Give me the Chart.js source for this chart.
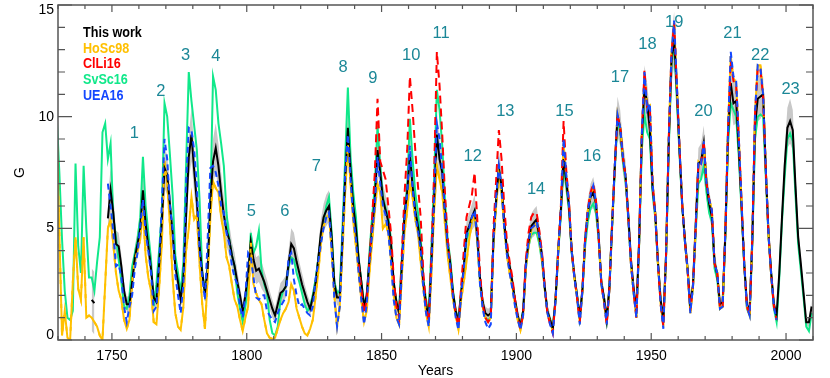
<!DOCTYPE html>
<html><head><meta charset="utf-8">
<script src="https://cdn.jsdelivr.net/npm/chart.js@4/dist/chart.umd.min.js"></script>
<style>html,body{margin:0;padding:0;background:#fff;}#wrap{width:830px;height:378px;}</style>
</head><body><div id="wrap"><canvas id="c" width="830" height="378"></canvas></div>
<script>
// ---------------- DATA (annual values, G) ----------------
const thisWorkStart = 1742;
const thisWork = [
 1.8,1.65,null,null,null,null,5.45,6.7,
 5.7,4.3,4.2,3.3,2.2,1.6,1.6,2.6,3.7,4.3,
 5.0,6.7,5.2,4.2,3.2,1.9,1.7,3.4,5.3,7.7,
 7.4,6.1,4.8,3.3,2.6,1.8,2.8,5.5,8.2,9.2,
 7.6,6.2,4.2,3.0,2.1,3.2,6.2,8.0,8.6,7.8,
 6.6,5.6,4.9,4.5,3.8,3.3,2.6,2.0,1.3,2.0,
 3.0,4.4,3.6,3.1,3.2,2.9,2.6,2.2,1.8,1.4,
 1.1,1.6,2.1,2.2,2.4,3.4,4.3,4.1,3.5,3.0,
 2.5,2.1,1.7,1.4,1.9,2.5,3.6,4.8,5.5,5.8,
 6.0,4.6,2.5,1.9,1.9,4.5,7.2,9.5,7.6,6.0,
 5.0,3.6,2.6,1.5,2.0,3.6,5.0,6.3,8.5,7.5,
 6.3,5.8,5.3,4.3,2.6,1.7,1.2,3.3,5.6,6.6,
 8.3,6.9,5.8,5.1,4.2,2.6,1.6,1.0,3.5,6.3,
 9.2,8.1,7.5,5.7,4.3,3.4,2.1,1.3,0.8,2.1,
 3.3,4.8,5.1,5.5,5.8,4.7,2.8,1.7,1.2,1.1,
 1.2,4.5,6.3,7.7,6.9,5.3,4.0,3.3,2.6,1.8,
 1.1,0.6,1.3,3.4,4.4,5.1,5.25,5.4,4.6,3.8,
 2.4,1.3,0.9,0.5,1.8,4.0,5.8,8.1,7.1,6.0,
 4.0,2.9,2.0,1.0,2.3,4.5,5.7,6.4,6.6,6.1,
 4.7,2.6,1.9,0.9,2.4,5.2,7.8,10.0,9.5,8.2,
 7.3,5.6,3.6,2.3,1.3,4.4,9.0,11.3,10.6,9.4,
 6.8,5.7,3.5,1.8,0.9,3.8,8.8,12.5,13.5,11.2,
 8.5,6.0,4.5,3.2,1.5,2.5,5.2,7.9,8.0,8.8,
 7.0,6.1,5.5,3.5,2.9,1.6,1.7,4.8,9.2,11.5,
 10.6,10.7,8.5,6.0,3.4,1.6,1.3,4.5,9.6,10.8,
 10.9,11.0,7.6,4.8,3.0,1.6,1.1,3.0,5.5,7.8,
 9.5,9.8,9.4,6.9,4.6,3.4,2.1,0.8,0.8,1.5
];
// half-width of the grey uncertainty band of "This work"
const thisWorkErr = [
 1.4,1.4,null,null,null,null,0.9,1.0,
 0.8,0.6,0.6,0.5,0.4,0.35,0.35,0.4,0.5,0.6,
 0.7,0.8,0.7,0.6,0.5,0.35,0.35,0.5,0.7,0.9,
 0.9,0.8,0.6,0.5,0.4,0.35,0.4,0.7,1.0,1.2,
 1.0,0.8,0.6,0.5,0.4,0.5,0.8,1.0,1.1,1.0,
 0.9,0.8,0.7,0.7,0.6,0.6,0.5,0.4,0.35,0.4,
 0.5,0.6,0.6,0.6,0.6,0.6,0.5,0.5,0.4,0.4,
 0.35,0.4,0.45,0.5,0.5,0.6,0.7,0.7,0.6,0.5,
 0.5,0.4,0.35,0.3,0.35,0.4,0.5,0.6,0.6,0.7,
 0.7,0.6,0.4,0.35,0.35,0.5,0.7,0.9,0.8,0.7,
 0.6,0.5,0.4,0.3,0.35,0.5,0.6,0.7,0.9,0.8,
 0.7,0.7,0.6,0.5,0.4,0.3,0.3,0.4,0.6,0.7,
 0.9,0.8,0.7,0.6,0.5,0.4,0.3,0.3,0.4,0.7,
 1.0,0.9,0.8,0.6,0.5,0.4,0.35,0.3,0.25,0.35,
 0.4,0.5,0.6,0.6,0.7,0.6,0.4,0.3,0.3,0.3,
 0.3,0.5,0.7,0.8,0.7,0.6,0.5,0.4,0.4,0.3,
 0.3,0.25,0.3,0.4,0.5,0.55,0.6,0.6,0.55,0.5,
 0.4,0.3,0.25,0.2,0.3,0.4,0.6,0.8,0.7,0.6,
 0.5,0.4,0.3,0.25,0.3,0.5,0.6,0.6,0.7,0.6,
 0.5,0.4,0.3,0.25,0.3,0.5,0.7,0.9,0.8,0.7,
 0.7,0.6,0.4,0.3,0.25,0.5,0.8,1.0,0.9,0.8,
 0.7,0.6,0.4,0.3,0.2,0.4,0.8,1.1,1.2,1.0,
 0.8,0.6,0.5,0.4,0.3,0.35,0.5,0.7,0.8,0.8,
 0.7,0.6,0.5,0.4,0.35,0.25,0.3,0.5,0.8,1.0,
 1.0,1.0,0.8,0.6,0.4,0.3,0.25,0.5,0.9,1.0,
 1.0,0.8,0.6,0.5,0.4,0.3,0.25,0.35,0.6,0.8,
 0.9,1.0,0.9,0.7,0.5,0.4,0.3,0.2,0.2,0.3
];
const hoSc98Start = 1729;
const hoSc98 = [
 9.4,
 4.8,0.2,1.3,0.1,0.0,2.6,4.6,2.3,1.8,4.6,
 1.0,1.1,1.0,0.8,0.6,0.2,0.0,2.5,5.0,5.4,
 4.3,3.0,2.2,1.8,0.9,0.5,0.9,2.6,3.6,4.0,
 4.5,5.8,3.8,2.8,2.2,0.8,0.7,2.3,4.3,8.0,
 7.0,5.2,2.8,1.2,0.6,0.45,1.5,4.0,5.0,6.4,
 5.4,5.6,3.4,1.6,0.5,2.8,5.5,7.1,6.8,6.6,
 5.5,4.8,3.7,3.3,2.5,1.8,1.5,0.9,0.4,1.0,
 1.5,4.4,2.5,2.1,1.8,1.6,0.9,0.3,0.1,0.05,
 0.1,0.5,0.9,1.2,1.4,1.7,2.5,2.2,1.4,1.0,
 0.6,0.3,0.2,0.5,0.9,1.9,3.0,4.3,5.1,5.5,
 5.6,4.0,2.0,0.6,1.5,4.0,6.6,8.8,7.0,5.3,
 4.2,3.0,1.8,0.8,1.3,3.0,4.4,5.8,7.0,6.6,
 5.0,5.2,4.8,3.6,2.0,1.0,0.7,2.8,4.8,5.8,
 7.0,6.4,5.4,4.8,3.5,2.3,1.2,0.6,3.0,5.8,
 7.8,7.2,6.6,5.2,3.8,2.8,1.8,1.1,0.5,1.8,
 2.6,3.5,4.5,5.3,5.6,4.5,2.6,1.5,1.0,0.8,
 1.0,4.3,6.0,7.4,6.6,5.0,3.8,3.0,2.4,1.6,
 0.9,0.45,1.1,3.2,4.2,4.9,5.1,5.2,4.5,3.6,
 2.3,1.2,0.8,0.4,1.7,3.9,5.9,8.8,7.3,6.1,
 4.0,2.8,1.9,0.8,2.2,4.5,5.8,6.5,6.8,6.2,
 4.6,2.5,1.7,0.7,2.3,5.2,7.8,10.1,9.5,8.2,
 7.3,5.5,3.4,2.1,1.0,4.3,9.2,11.8,10.4,10.5,
 7.0,5.6,3.4,1.6,0.6,3.8,9.0,12.8,14.2,11.4,
 8.6,6.1,4.4,3.1,1.2,2.4,5.0,8.0,7.9,8.9,
 7.0,6.3,5.8,3.4,3.0,1.4,1.5,4.9,9.5,12.7,
 11.7,11.5,9.0,6.2,3.4,1.5,1.1,4.6,10.2,12.3,
 12.3,11.0,7.6,4.7,2.9,1.5
];
const clLi16Start = 1841;
const clLi16 = [
 3.4,2.3,1.2,1.8,3.6,5.5,7.5,10.8,8.0,
 7.6,7.2,6.0,4.8,2.8,1.5,1.0,3.8,6.5,8.5,
 11.8,10.3,8.5,6.9,5.5,3.0,1.6,0.8,4.0,7.5,
 12.9,11.4,9.2,6.6,4.6,3.3,2.0,1.2,0.6,2.4,
 4.0,5.5,6.0,6.5,7.5,5.4,3.0,1.6,1.0,0.8,
 1.0,5.0,7.2,9.4,8.1,6.0,4.4,3.5,2.8,1.8,
 1.0,0.5,1.2,3.6,4.8,5.5,5.7,5.7,4.9,3.9,
 2.4,1.2,0.7,0.3,1.8,4.0,6.0,9.8,7.6,6.2,
 4.0,2.8,1.9,0.8,2.3,4.6,5.9,6.6,7.0,6.3,
 4.6,2.5,1.7,0.7,2.3,5.2,7.8,10.1,9.5,8.2,
 7.3,5.5,3.4,2.1,1.0,4.3,9.2,12.1,10.4,10.4,
 7.0,5.6,3.4,1.6,0.6,3.8,9.0,12.8,14.2,11.4,
 8.6,6.1,4.4,3.1,1.3,2.4,5.0,8.0,7.9,8.9,
 7.0,6.3,5.8,3.4,3.0,1.4,1.5,4.9,9.4,12.5,
 11.6,11.4,9.0,6.2,3.4,1.5,1.1,4.6,10.1,12.2,
 12.1,10.9,7.6,4.7,2.9,1.5,0.9
];
const svSc16Start = 1729;
const svSc16 = [
 10.1,
 7.5,4.5,2.2,1.0,0.9,1.3,7.9,4.2,3.0,7.8,
 5.0,2.8,2.8,2.2,3.5,4.6,9.3,9.7,8.1,8.8,
 5.5,4.6,3.6,2.6,1.5,1.4,2.0,3.3,3.9,4.5,
 5.5,8.2,6.0,4.8,3.6,1.5,2.5,4.0,5.7,10.6,
 10.0,8.3,6.5,3.8,3.0,2.1,3.5,7.8,12.0,10.7,
 9.6,8.5,6.3,3.0,2.1,3.2,6.0,11.8,11.2,9.7,
 8.8,7.8,5.7,4.5,3.8,3.3,2.1,1.4,0.8,1.5,
 2.4,4.8,3.9,4.2,4.9,3.1,2.5,2.1,0.9,0.3,
 0.2,0.6,1.8,2.2,2.4,3.3,3.7,3.6,3.0,2.6,
 2.1,1.6,1.3,1.5,2.0,2.7,3.6,4.6,5.3,6.0,
 6.4,4.8,2.6,2.1,2.2,5.0,8.1,11.3,8.2,6.6,
 5.5,3.6,2.6,1.6,1.8,3.9,5.5,6.9,9.6,7.8,
 6.4,5.9,5.5,4.5,2.5,1.7,1.4,3.6,5.8,6.8,
 9.9,8.1,6.6,5.7,4.6,2.7,1.8,1.2,4.2,7.2,
 11.2,10.3,8.7,6.3,4.5,3.6,2.2,1.3,0.9,2.1,
 3.2,4.5,4.8,5.3,5.7,4.5,2.6,1.5,1.0,0.9,
 1.0,4.5,6.2,7.6,6.7,5.1,3.9,3.2,2.5,1.7,
 1.0,0.7,1.3,3.2,4.2,4.7,4.8,4.8,4.3,3.5,
 2.3,1.3,0.9,0.6,1.8,3.9,5.6,7.8,6.9,5.8,
 3.9,2.8,2.0,1.0,2.2,4.2,5.3,5.9,6.1,5.7,
 4.5,2.5,1.9,0.9,2.3,5.0,7.6,9.8,9.3,8.0,
 7.1,5.4,3.4,2.1,1.1,4.2,8.5,10.1,9.3,9.0,
 6.6,5.5,3.4,1.8,0.9,3.6,8.5,12.3,13.3,10.8,
 8.3,6.0,4.4,3.1,1.3,2.4,4.8,7.0,7.2,7.8,
 6.6,5.7,5.3,3.2,2.7,1.4,1.5,4.6,8.8,10.6,
 10.3,10.0,8.2,5.8,3.3,1.4,1.1,4.3,9.0,10.0,
 10.1,10.0,7.3,4.6,2.9,1.4,0.8,2.8,5.3,7.3,
 9.0,9.25,8.9,6.5,4.3,3.1,1.9,0.6,0.4,1.2
];
const uea16Start = 1748;
const uea16 = [
 7.0,6.0,
 4.8,3.3,3.4,2.8,1.5,0.8,1.5,2.0,3.2,3.9,
 5.1,6.3,4.8,4.0,3.0,1.3,1.5,3.5,6.0,9.0,
 8.1,6.0,5.0,2.9,2.0,1.2,2.5,7.0,9.5,9.4,
 8.5,6.9,4.0,2.8,1.8,4.5,7.7,7.8,7.5,6.9,
 6.0,5.7,4.8,4.3,3.3,2.8,2.5,1.5,1.0,2.0,
 3.9,3.7,2.8,1.9,1.8,2.0,2.0,1.3,1.1,0.9,
 0.8,1.2,1.5,1.7,1.9,3.7,3.9,2.7,2.0,1.5,
 1.6,1.4,1.2,1.1,1.5,2.7,3.5,4.3,5.0,5.5,
 5.7,4.0,1.8,0.6,1.5,4.5,7.5,9.2,7.2,5.5,
 4.5,3.0,1.8,0.7,1.6,3.5,4.8,6.0,8.2,7.0,
 6.0,5.6,4.8,3.5,1.8,1.0,0.7,3.0,5.4,6.5,
 8.7,6.8,5.6,4.9,4.0,2.3,1.2,0.6,3.4,6.4,
 9.7,9.0,7.6,5.7,4.2,3.2,1.9,1.0,0.45,2.0,
 3.2,4.7,5.0,5.5,5.8,4.5,2.5,1.4,0.8,0.5,
 0.7,4.5,6.4,7.8,6.8,5.0,3.8,3.0,2.3,1.5,
 0.9,0.45,1.1,3.3,4.4,5.0,5.1,5.3,4.6,3.7,
 2.3,1.2,0.7,0.3,1.7,3.9,5.9,9.0,7.4,6.1,
 4.0,2.8,1.9,0.7,2.2,4.5,5.8,6.5,6.9,6.2,
 4.6,2.5,1.7,0.7,2.3,5.2,7.8,10.1,9.5,8.2,
 7.3,5.5,3.4,2.1,1.0,4.3,9.2,12.0,10.3,10.6,
 7.0,5.6,3.4,1.6,0.5,3.8,9.0,12.8,14.3,11.5,
 8.6,6.1,4.4,3.1,1.2,2.4,5.0,8.0,7.9,8.9,
 7.0,6.3,5.8,3.4,3.0,1.4,1.5,4.9,9.5,12.9,
 11.8,11.6,9.0,6.2,3.4,1.5,1.1,4.6,10.2,12.3,
 12.2,11.0,7.6,4.7,2.9,1.5,0.9
];
// solar cycle labels
const cycleNumbers = ['1','2','3','4','5','6','7','8','9','10','11','12','13','14','15','16','17','18','19','20','21','22','23'];
const cycleLabelYear = [1758.3,1768.1,1777.3,1788.5,1801.7,1814.1,1825.8,1835.7,1846.8,1861.0,1872.1,1883.8,1895.9,1907.3,1917.8,1928.0,1938.4,1948.6,1958.5,1969.4,1980.1,1990.4,2001.7];
const cycleLabelG    = [9.26,11.15,12.76,12.69,5.75,5.75,7.76,12.19,11.72,12.76,13.73,8.21,10.22,6.75,10.22,8.21,11.76,13.24,14.21,10.22,13.73,12.72,11.23];
const xTickLabels = [1750,1800,1850,1900,1950,2000];
const yTickLabels = [0,5,10,15];
const legendNames = ['This work','HoSc98','ClLi16','SvSc16','UEA16'];

// ---------------- STYLE ----------------
const FONT = "'Liberation Sans', Arial, Helvetica, sans-serif";
const C = {work:'#000000', ho:'#FFC000', cl:'#FF0000', sv:'#10E88A', uea:'#1448FF', band:'#C8C8C8', cyc:'#1B8797', axis:'#555555'};
const legendColors = [C.work, C.ho, C.cl, C.sv, C.uea];

function pts(start, arr){ return arr.map((v,i)=>({x:start+i+0.5, y:v})); }
const bandLow  = thisWork.map((v,i)=> (v==null||thisWorkErr[i]==null)?null:v-thisWorkErr[i]);
const bandHigh = thisWork.map((v,i)=> (v==null||thisWorkErr[i]==null)?null:v+thisWorkErr[i]);

const decor = {
  id:'decor',
  afterDatasetsDraw(chart){
    const {ctx, chartArea:a, scales:{x,y}} = chart;
    ctx.save();
    ctx.strokeStyle = C.axis; ctx.lineWidth = 1.5;
    ctx.strokeRect(a.left, a.top, a.right-a.left, a.bottom-a.top);
    ctx.lineWidth = 1.2;
    ctx.beginPath();
    for(let v=1730; v<=2010; v+=10){
      const px = x.getPixelForValue(v);
      const len = (v%50===0)?7:4;
      ctx.moveTo(px,a.bottom); ctx.lineTo(px,a.bottom-len);
      ctx.moveTo(px,a.top); ctx.lineTo(px,a.top+len);
    }
    for(let v=0; v<=15; v++){
      const py = y.getPixelForValue(v);
      const len = (v%5===0)?14:7;
      ctx.moveTo(a.left,py); ctx.lineTo(a.left+len,py);
      ctx.moveTo(a.right,py); ctx.lineTo(a.right-len,py);
    }
    ctx.stroke();
    // y tick labels
    ctx.fillStyle = '#000'; ctx.font = '14px '+FONT; ctx.textAlign='right'; ctx.textBaseline='middle';
    yTickLabels.forEach(v=>{
      let py = y.getPixelForValue(v);
      py = Math.min(Math.max(py, a.top+5), a.bottom-5);
      ctx.fillText(String(v), a.left-4, py);
    });
    // legend
    ctx.textAlign='left'; ctx.font = 'bold 14px '+FONT;
    legendNames.forEach((t,i)=>{
      ctx.save(); ctx.translate(a.left+25, a.top+28+i*15.7); ctx.scale(0.9,1);
      ctx.fillStyle = legendColors[i]; ctx.fillText(t,0,0); ctx.restore();
    });
    // cycle numbers
    ctx.textAlign='center'; ctx.font = '16.5px '+FONT; ctx.fillStyle = C.cyc;
    cycleNumbers.forEach((t,i)=>{
      ctx.fillText(t, x.getPixelForValue(cycleLabelYear[i]), y.getPixelForValue(cycleLabelG[i]));
    });
    ctx.restore();
  }
};

const lw = 2;
new Chart(document.getElementById('c'), {
  type:'line',
  data:{ datasets:[
    {label:'UEA16', data:pts(uea16Start,uea16), borderColor:C.uea, borderWidth:lw, borderDash:[6,4], order:1},
    {label:'ClLi16', data:pts(clLi16Start,clLi16), borderColor:C.cl, borderWidth:lw, borderDash:[8,5], order:2},
    {label:'HoSc98 overlay', data:pts(hoSc98Start,hoSc98), borderColor:C.ho, borderWidth:lw, borderDash:[4,8], borderDashOffset:-6, order:3},
    {label:'This work', data:pts(thisWorkStart,thisWork), borderColor:C.work, borderWidth:lw, order:4},
    {label:'HoSc98', data:pts(hoSc98Start,hoSc98), borderColor:C.ho, borderWidth:lw, order:5},
    {label:'SvSc16', data:pts(svSc16Start,svSc16), borderColor:C.sv, borderWidth:lw, order:6},
    {label:'bandLow', data:pts(thisWorkStart,bandLow), borderWidth:0, borderColor:'rgba(0,0,0,0)', fill:false, order:8},
    {label:'bandHigh', data:pts(thisWorkStart,bandHigh), borderWidth:0, borderColor:'rgba(0,0,0,0)', backgroundColor:C.band, fill:'-1', order:7}
  ]},
  options:{
    responsive:false, animation:false, devicePixelRatio:1,
    layout:{padding:{left:0,right:17,top:5,bottom:0}},
    elements:{point:{radius:0,hoverRadius:0}, line:{tension:0, spanGaps:false}},
    plugins:{legend:{display:false}, tooltip:{enabled:false}},
    events:[],
    scales:{
      x:{type:'linear', min:1730, max:2010,
        afterBuildTicks:s=>{ s.ticks = xTickLabels.map(v=>({value:v})); },
        afterFit:s=>{ s.height = 38; },
        grid:{display:false, drawTicks:false}, border:{display:false},
        ticks:{font:{family:FONT,size:14}, color:'#000', padding:8, maxRotation:0, autoSkip:false, callback:v=>String(v)},
        title:{display:true, text:'Years', color:'#000', font:{family:FONT,size:14,lineHeight:1}, padding:{top:0,bottom:0}}
      },
      y:{min:0, max:15,
        afterBuildTicks:s=>{ s.ticks = yTickLabels.map(v=>({value:v})); },
        afterFit:s=>{ s.width = 58; },
        grid:{display:false, drawTicks:false}, border:{display:false},
        ticks:{display:false},
        title:{display:true, text:'G', color:'#000', font:{family:FONT,size:14,lineHeight:1}, padding:{top:13,bottom:0}}
      }
    }
  },
  plugins:[decor]
});
</script></body></html>
